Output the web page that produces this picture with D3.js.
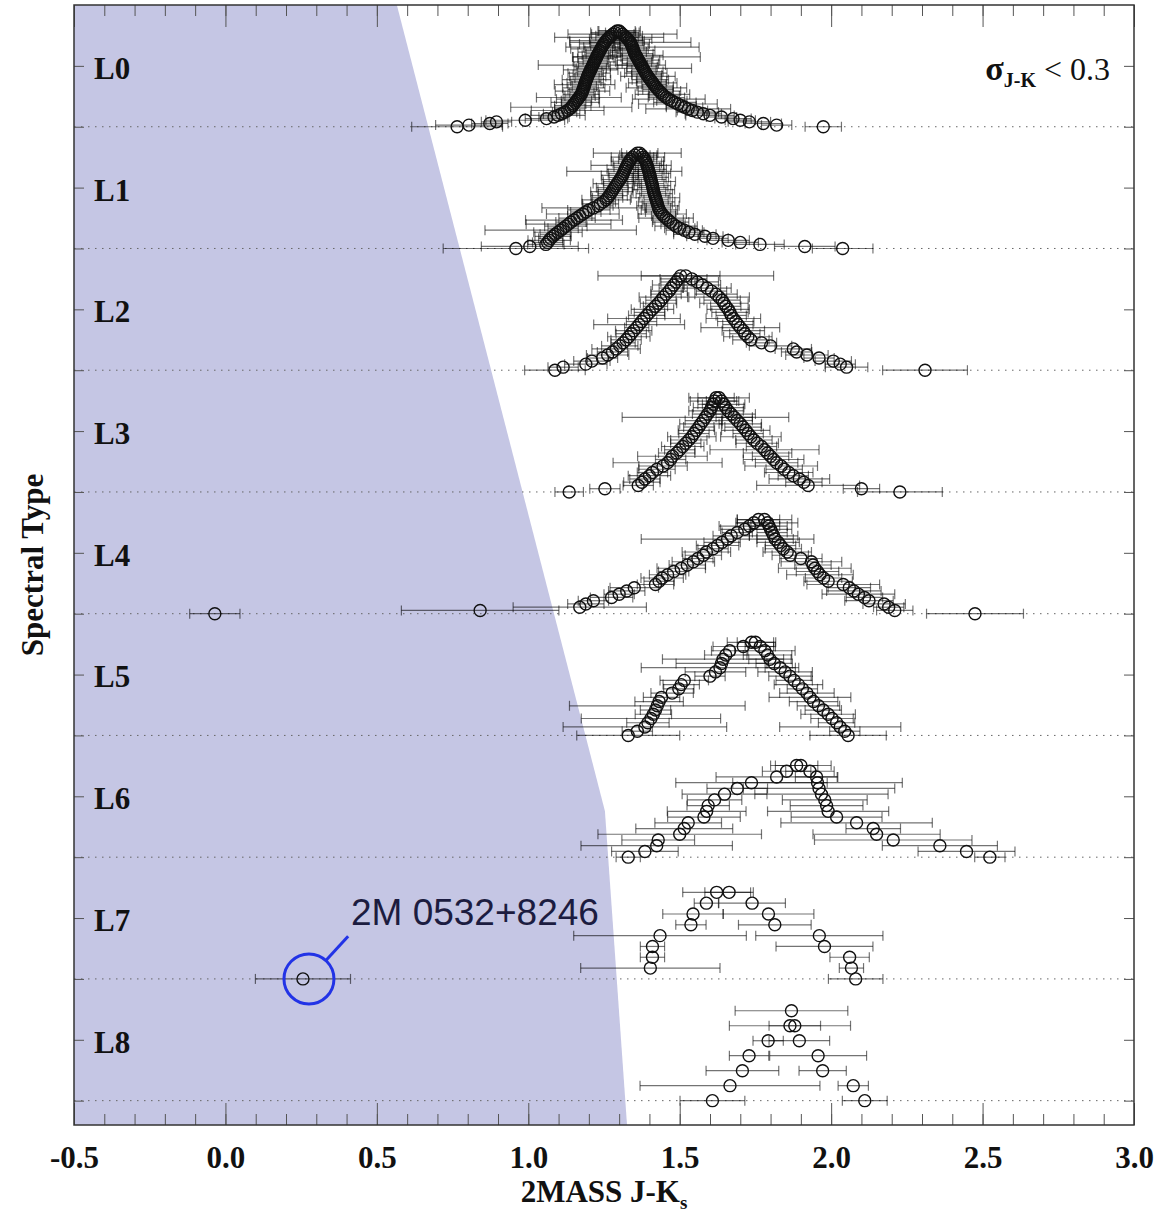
<!DOCTYPE html>
<html>
<head>
<meta charset="utf-8">
<script src="https://cdn.jsdelivr.net/npm/d3@7"></script>
<style>
  html, body { margin: 0; padding: 0; background: #fff; }
  svg { display: block; }
</style>
</head>
<body>
<svg id="chart" width="1163" height="1215"></svg>
<script>
// ---- Data: 2MASS J-Ks colours [value, sigma] per L spectral subtype ----
const spectralTypes = ["L0", "L1", "L2", "L3", "L4", "L5", "L6", "L7", "L8"];
const xTickValues = [-0.5, 0.0, 0.5, 1.0, 1.5, 2.0, 2.5, 3.0];

const L0 = [
  [0.765,0.15],[0.804,0.11],[0.873,0.06],[0.895,0.05],[0.99,0.13],[1.06,0.07],[1.085,0.05],[1.098,0.09],
  [1.11,0.06],[1.12,0.04],[1.13,0.12],[1.137,0.05],[1.142,0.2],[1.147,0.06],[1.15,0.04],[1.155,0.08],
  [1.159,0.05],[1.163,0.07],[1.167,0.14],[1.171,0.05],[1.175,0.06],[1.177,0.04],[1.179,0.09],[1.181,0.05],
  [1.183,0.07],[1.185,0.04],[1.186,0.1],[1.188,0.06],[1.19,0.05],[1.192,0.08],[1.194,0.04],[1.196,0.06],
  [1.198,0.05],[1.201,0.07],[1.203,0.04],[1.206,0.09],[1.208,0.05],[1.211,0.06],[1.213,0.18],[1.216,0.05],
  [1.218,0.07],[1.221,0.04],[1.223,0.06],[1.226,0.08],[1.228,0.05],[1.231,0.04],[1.234,0.07],[1.237,0.05],
  [1.24,0.1],[1.243,0.06],[1.246,0.04],[1.249,0.08],[1.253,0.05],[1.257,0.12],[1.262,0.06],[1.267,0.18],
  [1.273,0.05],[1.279,0.07],[1.286,0.08],[1.293,0.06],
  [1.3,0.07],[1.305,0.05],[1.311,0.18],[1.317,0.06],[1.323,0.04],[1.328,0.08],[1.333,0.05],[1.337,0.2],
  [1.34,0.06],[1.342,0.04],[1.344,0.22],[1.346,0.05],[1.348,0.07],[1.35,0.04],[1.352,0.06],[1.355,0.09],
  [1.358,0.21],[1.361,0.05],[1.364,0.07],[1.367,0.04],[1.37,0.06],[1.373,0.08],[1.376,0.05],[1.379,0.16],
  [1.382,0.04],[1.385,0.06],[1.388,0.07],[1.391,0.05],[1.395,0.09],[1.399,0.04],[1.403,0.06],[1.407,0.05],
  [1.411,0.08],[1.415,0.04],[1.419,0.06],[1.423,0.1],[1.428,0.05],[1.433,0.07],[1.438,0.04],[1.443,0.09],
  [1.449,0.05],[1.456,0.06],[1.464,0.12],[1.474,0.05],[1.484,0.07],[1.494,0.13],[1.505,0.05],[1.516,0.06],
  [1.528,0.14],[1.542,0.05],[1.558,0.07],[1.578,0.06],[1.6,0.08],[1.638,0.05],[1.676,0.06],[1.7,0.05],
  [1.73,0.07],[1.776,0.06],[1.82,0.05],[1.974,0.06]
];

const L1 = [
  [0.959,0.24],[1.005,0.16],[1.058,0.06],[1.064,0.05],[1.069,0.07],[1.074,0.04],[1.082,0.06],[1.089,0.05],
  [1.098,0.08],[1.107,0.25],[1.115,0.05],[1.124,0.07],[1.133,0.14],[1.141,0.05],[1.151,0.16],[1.161,0.06],
  [1.17,0.04],[1.18,0.12],[1.19,0.05],[1.2,0.07],[1.215,0.17],[1.23,0.05],[1.238,0.06],[1.248,0.04],
  [1.257,0.08],[1.262,0.05],[1.267,0.06],[1.271,0.04],[1.276,0.07],[1.28,0.05],[1.285,0.06],[1.289,0.04],
  [1.294,0.08],[1.298,0.05],[1.303,0.06],[1.307,0.04],[1.311,0.07],[1.314,0.05],[1.317,0.19],[1.32,0.06],
  [1.323,0.04],[1.327,0.12],[1.33,0.05],[1.334,0.06],[1.338,0.04],[1.344,0.07],[1.352,0.05],[1.36,0.145],
  [1.368,0.06],[1.375,0.05],[1.38,0.07],[1.384,0.04],[1.387,0.06],[1.39,0.05],[1.392,0.08],[1.394,0.04],
  [1.396,0.06],[1.398,0.05],[1.4,0.07],[1.402,0.04],[1.403,0.06],[1.405,0.05],[1.406,0.08],[1.408,0.04],
  [1.41,0.06],[1.411,0.05],[1.413,0.07],[1.414,0.04],[1.416,0.06],[1.418,0.05],[1.42,0.08],[1.422,0.04],
  [1.424,0.06],[1.426,0.05],[1.428,0.07],[1.43,0.04],[1.433,0.06],[1.437,0.05],[1.442,0.08],[1.447,0.04],
  [1.455,0.09],[1.462,0.05],[1.47,0.06],[1.478,0.04],[1.488,0.07],[1.5,0.05],[1.515,0.06],[1.53,0.05],
  [1.55,0.07],[1.583,0.06],[1.61,0.05],[1.66,0.07],[1.7,0.06],[1.765,0.08],[1.913,0.1],[2.038,0.1]
];

const L2 = [
  [1.088,0.1],[1.115,0.05],[1.19,0.07],[1.21,0.06],[1.245,0.05],[1.262,0.07],[1.278,0.05],[1.29,0.08],
  [1.302,0.06],[1.313,0.04],[1.323,0.05],[1.332,0.07],[1.34,0.05],[1.348,0.06],[1.358,0.04],[1.366,0.15],
  [1.374,0.05],[1.382,0.12],[1.391,0.06],[1.4,0.05],[1.41,0.07],[1.42,0.04],[1.43,0.06],[1.438,0.05],
  [1.446,0.08],[1.455,0.05],[1.465,0.06],[1.472,0.04],[1.48,0.07],[1.488,0.05],[1.495,0.06],[1.503,0.13],
  [1.52,0.29],[1.54,0.05],[1.558,0.07],[1.575,0.06],[1.59,0.08],[1.605,0.05],[1.62,0.07],[1.63,0.1],
  [1.64,0.06],[1.646,0.08],[1.652,0.05],[1.66,0.07],[1.666,0.06],[1.67,0.05],[1.677,0.09],[1.685,0.06],
  [1.692,0.05],[1.7,0.13],[1.71,0.07],[1.715,0.05],[1.725,0.08],[1.735,0.06],[1.77,0.05],[1.8,0.07],
  [1.875,0.06],[1.886,0.05],[1.92,0.07],[1.96,0.05],[2.007,0.06],[2.03,0.05],[2.051,0.07],[2.31,0.14]
];

const L3 = [
  [1.135,0.047],[1.253,0.05],[1.363,0.05],[1.375,0.06],[1.385,0.05],[1.4,0.07],[1.41,0.05],[1.425,0.06],
  [1.445,0.08],[1.46,0.18],[1.47,0.05],[1.476,0.115],[1.49,0.06],[1.5,0.05],[1.51,0.07],[1.52,0.05],
  [1.53,0.06],[1.54,0.08],[1.547,0.05],[1.555,0.06],[1.563,0.05],[1.57,0.07],[1.578,0.06],[1.585,0.275],
  [1.592,0.05],[1.6,0.07],[1.605,0.06],[1.61,0.05],[1.615,0.08],[1.62,0.06],
  [1.63,0.1],[1.638,0.05],[1.645,0.07],[1.652,0.06],[1.66,0.05],[1.67,0.08],[1.68,0.06],[1.69,0.05],
  [1.7,0.07],[1.709,0.06],[1.718,0.08],[1.726,0.05],[1.735,0.1],[1.745,0.06],[1.756,0.07],[1.77,0.05],
  [1.78,0.18],[1.79,0.08],[1.8,0.06],[1.81,0.1],[1.82,0.07],[1.835,0.12],[1.845,0.06],[1.86,0.08],
  [1.875,0.05],[1.895,0.1],[1.91,0.06],[1.924,0.17],[2.1,0.06],[2.227,0.14]
];

const L4 = [
  [-0.035,0.083],[0.841,0.26],[1.17,0.22],[1.19,0.06],[1.215,0.05],[1.275,0.07],[1.3,0.05],[1.325,0.06],
  [1.35,0.08],[1.42,0.06],[1.432,0.05],[1.442,0.07],[1.46,0.06],[1.48,0.05],[1.505,0.08],[1.525,0.06],
  [1.545,0.07],[1.56,0.05],[1.578,0.06],[1.588,0.08],[1.61,0.05],[1.625,0.07],[1.64,0.06],[1.658,0.285],
  [1.67,0.06],[1.69,0.05],[1.715,0.08],[1.73,0.1],[1.745,0.06],[1.76,0.07],
  [1.78,0.09],[1.79,0.1],[1.795,0.06],[1.8,0.07],[1.805,0.05],[1.81,0.08],[1.815,0.06],[1.825,0.07],
  [1.833,0.05],[1.842,0.06],[1.855,0.08],[1.865,0.06],[1.9,0.07],[1.935,0.1],[1.94,0.06],[1.946,0.12],
  [1.955,0.07],[1.963,0.11],[1.975,0.06],[1.99,0.08],[2.04,0.12],[2.06,0.07],[2.075,0.09],[2.09,0.12],
  [2.11,0.06],[2.125,0.08],[2.175,0.07],[2.19,0.05],[2.21,0.06],[2.475,0.16]
];

const L5 = [
  [1.33,0.17],[1.36,0.05],[1.385,0.27],[1.395,0.07],[1.405,0.23],[1.413,0.06],[1.42,0.05],[1.426,0.29],
  [1.432,0.08],[1.44,0.06],[1.475,0.07],[1.497,0.05],[1.505,0.06],[1.515,0.08],[1.6,0.05],[1.618,0.1],
  [1.633,0.26],[1.638,0.15],[1.643,0.2],[1.652,0.07],[1.665,0.06],[1.71,0.1],[1.737,0.08],
  [1.75,0.06],[1.766,0.05],[1.781,0.1],[1.79,0.08],[1.798,0.07],[1.812,0.06],[1.832,0.05],[1.848,0.09],
  [1.864,0.07],[1.878,0.06],[1.892,0.08],[1.905,0.05],[1.92,0.09],[1.93,0.135],[1.942,0.08],[1.958,0.07],
  [1.974,0.06],[1.99,0.09],[2.003,0.07],[2.018,0.06],[2.03,0.2],[2.045,0.05],[2.056,0.126]
];

const L6 = [
  [1.33,0.04],[1.385,0.11],[1.424,0.25],[1.429,0.12],[1.5,0.27],[1.515,0.16],[1.528,0.11],[1.58,0.12],
  [1.589,0.13],[1.594,0.07],[1.615,0.09],[1.648,0.14],[1.69,0.1],[1.737,0.25],[1.82,0.2],[1.853,0.08],
  [1.886,0.07],
  [1.9,0.1],[1.93,0.08],[1.952,0.07],[1.955,0.28],[1.96,0.25],[1.968,0.22],[1.979,0.14],[1.985,0.12],
  [1.99,0.2],[2.018,0.15],[2.084,0.25],[2.139,0.09],[2.15,0.21],[2.205,0.26],[2.359,0.19],[2.447,0.16],
  [2.524,0.05]
];

const L7 = [
  [0.256,0.157],[1.403,0.23],[1.41,0.04],[1.41,0.04],[1.435,0.285],[1.537,0.05],[1.544,0.1],[1.588,0.04],
  [1.622,0.112],[1.663,0.08],[1.739,0.11],[1.793,0.15],[1.814,0.12],[1.961,0.21],[1.978,0.16],[2.061,0.065],
  [2.067,0.04],[2.081,0.09]
];

const L8 = [
  [1.608,0.107],[1.666,0.297],[1.707,0.12],[1.729,0.065],[1.792,0.05],[1.864,0.2],[1.869,0.186],[1.88,0.085],
  [1.895,0.1],[1.957,0.16],[1.972,0.078],[2.073,0.05],[2.111,0.074]
];

const rows = [L0, L1, L2, L3, L4, L5, L6, L7, L8];

// Region of colour space that is excluded (J-Ks, spectral-type coordinate)
const excludedRegion = [[-0.5, -1], [0.566, -1], [1.253, 5.62], [1.326, 8.2], [-0.5, 8.2]];

// Highlighted outlier
const outlier = { name: "2M 0532+8246", type: 7, value: 0.256 };

// ---- Layout ----
const serif = '"Liberation Serif", "Times New Roman", Times, serif';
const sans = '"Liberation Sans", Arial, Helvetica, sans-serif';
const svg = d3.select("#chart");
const x = d3.scaleLinear().domain([-0.5, 3.0]).range([74, 1134]);
const y = d3.scaleLinear().domain([-1, 8.2]).range([5, 1125]);
const [x0, x1] = x.range();
const [y0, y1] = y.range();
const PILE = 1.6;   // height of a stacked row, in row units per (n/2) ranks
const R = 6;        // marker radius
const CAP = 5;      // error-bar cap half-height

svg.append("rect").attr("width", 1163).attr("height", 1215).attr("fill", "#fff");

// shaded excluded region
svg.append("path")
  .datum(excludedRegion)
  .attr("d", d3.line().x(d => x(d[0])).y(d => y(d[1])).curve(d3.curveLinearClosed))
  .attr("fill", "#c5c6e4")
  .attr("stroke", "none");

// dotted baselines for each subtype
svg.append("g").selectAll("line")
  .data(spectralTypes.map((_, k) => k))
  .join("line")
  .attr("x1", x0).attr("x2", x1)
  .attr("y1", d => y(d)).attr("y2", d => y(d))
  .attr("stroke", "#666")
  .attr("stroke-width", 1)
  .attr("stroke-dasharray", "1.5,5.5");

// stacked points: rank-ordered pile rising toward the median
const pts = [];
rows.forEach((data, k) => {
  const sorted = data.slice().sort((a, b) => a[0] - b[0]);
  const n = sorted.length;
  sorted.forEach((d, i) => {
    const level = Math.min(i, n - 1 - i);
    pts.push({ v: d[0], e: d[1], yy: y(k - level * PILE / n) });
  });
});

const gErr = svg.append("g")
  .attr("stroke", "#000")
  .attr("stroke-opacity", 0.55)
  .attr("stroke-width", 1.2);
gErr.selectAll("line.bar").data(pts).join("line").attr("class", "bar")
  .attr("x1", d => x(d.v - d.e)).attr("x2", d => x(d.v + d.e))
  .attr("y1", d => d.yy).attr("y2", d => d.yy);
gErr.selectAll("line.capl").data(pts).join("line").attr("class", "capl")
  .attr("x1", d => x(d.v - d.e)).attr("x2", d => x(d.v - d.e))
  .attr("y1", d => d.yy - CAP).attr("y2", d => d.yy + CAP);
gErr.selectAll("line.capr").data(pts).join("line").attr("class", "capr")
  .attr("x1", d => x(d.v + d.e)).attr("x2", d => x(d.v + d.e))
  .attr("y1", d => d.yy - CAP).attr("y2", d => d.yy + CAP);

svg.append("g").selectAll("circle").data(pts).join("circle")
  .attr("cx", d => x(d.v)).attr("cy", d => d.yy).attr("r", R)
  .attr("fill", "none")
  .attr("stroke", "#111")
  .attr("stroke-width", 1.4);

// ---- Axes (ticks pointing inward) ----
const minorTicks = d3.range(-5, 31).map(i => i / 10);
const labelPos = spectralTypes.map((_, k) => k - 0.5);
const basePos = spectralTypes.map((_, k) => k);

function styleAxis(g) {
  g.select(".domain").remove();
  g.attr("color", "#555");
  g.selectAll(".tick line").attr("stroke-width", 1);
  return g;
}

svg.append("g").attr("transform", `translate(0,${y1})`)
  .call(d3.axisBottom(x).tickValues(minorTicks).tickSize(-11).tickFormat(""))
  .call(styleAxis);
const gx = svg.append("g").attr("transform", `translate(0,${y1})`)
  .call(d3.axisBottom(x).tickValues(xTickValues).tickSize(-22).tickPadding(21).tickFormat(d => d.toFixed(1)))
  .call(styleAxis);
gx.attr("font-family", serif).attr("font-size", 31).attr("font-weight", "bold");
gx.selectAll("text").attr("fill", "#111");

svg.append("g").attr("transform", `translate(0,${y0})`)
  .call(d3.axisTop(x).tickValues(minorTicks).tickSize(-11).tickFormat(""))
  .call(styleAxis);
svg.append("g").attr("transform", `translate(0,${y0})`)
  .call(d3.axisTop(x).tickValues(xTickValues).tickSize(-22).tickFormat(""))
  .call(styleAxis);

const gy = svg.append("g").attr("transform", `translate(${x0},0)`)
  .call(d3.axisLeft(y).tickValues(labelPos).tickSize(-10).tickPadding(-20)
    .tickFormat(d => spectralTypes[Math.round(d + 0.5)]))
  .call(styleAxis);
gy.attr("font-family", serif).attr("font-size", 31).attr("font-weight", "bold");
gy.selectAll("text").attr("fill", "#111").attr("text-anchor", "start").attr("dy", "0.4em");

svg.append("g").attr("transform", `translate(${x0},0)`)
  .call(d3.axisLeft(y).tickValues(basePos).tickSize(-10).tickFormat(""))
  .call(styleAxis);
svg.append("g").attr("transform", `translate(${x1},0)`)
  .call(d3.axisRight(y).tickValues(labelPos.concat(basePos)).tickSize(-10).tickFormat(""))
  .call(styleAxis);

// frame
svg.append("rect")
  .attr("x", x0).attr("y", y0).attr("width", x1 - x0).attr("height", y1 - y0)
  .attr("fill", "none").attr("stroke", "#333").attr("stroke-width", 1.5);

// ---- Titles ----
const xt = svg.append("text")
  .attr("x", (x0 + x1) / 2).attr("y", 1202)
  .attr("text-anchor", "middle")
  .attr("font-family", serif).attr("font-size", 31).attr("font-weight", "bold")
  .attr("fill", "#111");
xt.append("tspan").text("2MASS J-K");
xt.append("tspan").attr("font-size", 19).attr("dy", 7).text("s");

svg.append("text")
  .attr("transform", `translate(43,${(y0 + y1) / 2}) rotate(-90)`)
  .attr("text-anchor", "middle")
  .attr("font-family", serif).attr("font-size", 31).attr("font-weight", "bold")
  .attr("fill", "#111")
  .text("Spectral Type");

const st = svg.append("text")
  .attr("x", 1110).attr("y", 80)
  .attr("text-anchor", "end")
  .attr("font-family", serif).attr("fill", "#111");
st.append("tspan").attr("font-size", 34).attr("font-weight", "bold").text("σ");
st.append("tspan").attr("font-size", 20).attr("font-weight", "bold").attr("dy", 7).text("J-K");
st.append("tspan").attr("font-size", 32).attr("dy", -7).text(" < 0.3");

// ---- Outlier annotation ----
const ox = x(outlier.value) + 6;
const oy = y(outlier.type);
const ringR = 25;
const ang = -47.5 * Math.PI / 180;
svg.append("circle")
  .attr("cx", ox).attr("cy", oy).attr("r", ringR)
  .attr("fill", "none").attr("stroke", "#2233e6").attr("stroke-width", 3);
svg.append("line")
  .attr("x1", ox + ringR * Math.cos(ang)).attr("y1", oy + ringR * Math.sin(ang))
  .attr("x2", ox + (ringR + 33) * Math.cos(ang)).attr("y2", oy + (ringR + 33) * Math.sin(ang))
  .attr("stroke", "#2233e6").attr("stroke-width", 3);
svg.append("text")
  .attr("x", x(outlier.value) + 48).attr("y", oy - 54)
  .attr("font-family", sans).attr("font-size", 37)
  .attr("fill", "#1c1c40")
  .text(outlier.name);
</script>
</body>
</html>
